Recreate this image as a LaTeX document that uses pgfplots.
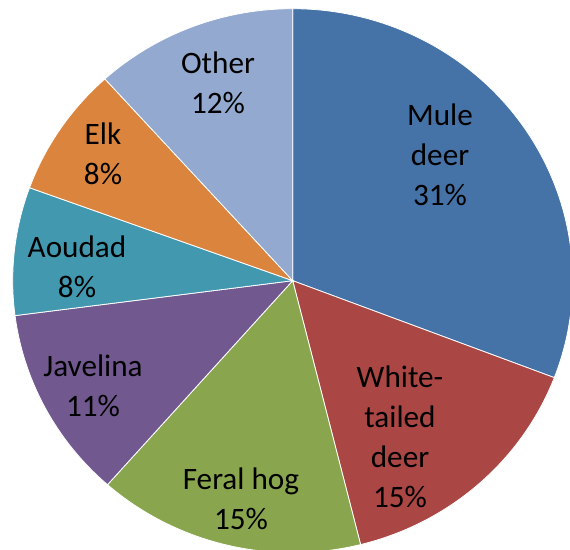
\documentclass[border=0pt]{standalone}
\usepackage{pgfplots}
\pgfplotsset{compat=1.18}
\usepackage{pgfplotstable}
\usepackage{fontspec}
\setmainfont{Carlito}
\definecolor{slice0}{HTML}{4572A7}
\definecolor{slice1}{HTML}{AA4643}
\definecolor{slice2}{HTML}{89A54E}
\definecolor{slice3}{HTML}{71588F}
\definecolor{slice4}{HTML}{4198AF}
\definecolor{slice5}{HTML}{DB843D}
\definecolor{slice6}{HTML}{93A9CF}
\pgfplotstableread{
name value
Mule 30.8
White 15.3
Feral 15.4
Javelina 11.45
Aoudad 7.6
Elk 7.75
Other 11.7
}\piedata
\begin{document}
\begin{tikzpicture}
\begin{axis}[scale only axis, width=285pt, height=275pt,
  xmin=-292.7, xmax=277.3, ymin=-269.3, ymax=280.7,
  hide axis, clip=true]
\gdef\cum{0}
\pgfplotsforeachungrouped \i in {0,...,6}{%
  \pgfplotstablegetelem{\i}{value}\of\piedata
  \pgfmathsetmacro\angA{90-3.6*\cum}%
  \pgfmathsetmacro\angB{90-3.6*(\cum+\pgfplotsretval)}%
  \pgfmathsetmacro\cumnew{\cum+\pgfplotsretval}%
  \xdef\cum{\cumnew}%
  \edef\temp{\noexpand\addplot[fill=slice\i, draw=white, line width=0.4pt, domain=\angB:\angA, samples=90] ({280*cos(x)},{272*sin(x)}) -- (axis cs:0,0) -- cycle;}%
  \temp
}
\tikzset{lbl/.style={align=center, font=\fontsize{15.6}{20}\selectfont, text=black}}
\node[lbl] at (axis cs:147.3,125.7) {Mule\\deer\\31\%};
\node[lbl] at (axis cs:107.3,-156.3) {White-\\tailed\\deer\\15\%};
\node[lbl] at (axis cs:-51.7,-218.3) {Feral hog\\15\%};
\node[lbl] at (axis cs:-199.7,-105.3) {Javelina\\11\%};
\node[lbl] at (axis cs:-215.7,13.7) {Aoudad\\8\%};
\node[lbl] at (axis cs:-189.7,126.7) {Elk\\8\%};
\node[lbl] at (axis cs:-74.7,197.7) {Other\\12\%};
\end{axis}
\pgfresetboundingbox
\useasboundingbox (current axis.south west) rectangle (current axis.north east);
\end{tikzpicture}
\end{document}
